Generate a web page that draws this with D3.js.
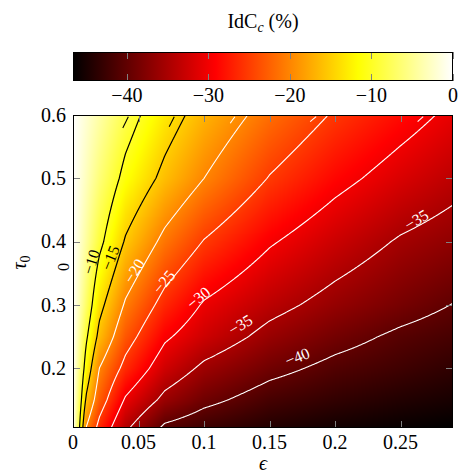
<!DOCTYPE html>
<html><head><meta charset="utf-8">
<script src="https://cdn.jsdelivr.net/npm/d3@7"></script>
<style>
body{margin:0;background:#fff}
svg{display:block}
text{font-family:"Liberation Serif","Times New Roman",serif;fill:#000}
</style>
</head><body>
<svg id="chart" width="460" height="473"></svg>
<script>
// ---- data ----
const epsValues = [0, 0.01, 0.02, 0.04, 0.07, 0.1, 0.15, 0.2, 0.25, 0.29];
const tauValues = [0.106, 0.15, 0.2, 0.25, 0.3, 0.4, 0.5, 0.6];
// IdC_c (%) : one row per tau value, one entry per eps value
const idcRow0106 = [0, -20.1, -26.4, -34.3, -40.8, -42.5, -44.3, -45.4, -46.1, -46.6];
const idcRow015  = [0, -15.6, -22.7, -30.5, -36.1, -39.0, -41.8, -43.2, -44.3, -45.0];
const idcRow020  = [0, -11.9, -20.0, -26.3, -32.4, -35.8, -38.9, -41.0, -42.3, -43.4];
const idcRow025  = [0, -9.3, -16.2, -23.2, -29.4, -32.5, -36.2, -38.7, -40.7, -41.8];
const idcRow030  = [0, -6.9, -13.7, -20.5, -26.5, -30.4, -33.8, -36.4, -38.5, -40.1];
const idcRow040  = [0, -4.4, -8.9, -15.4, -21.1, -25.2, -29.6, -32.7, -35.4, -36.8];
const idcRow050  = [0, -3.0, -6.1, -11.2, -16.1, -20.0, -25.2, -28.8, -31.7, -33.7];
const idcRow060  = [0, -2.0, -4.0, -8.1, -13.0, -16.8, -21.6, -25.4, -28.4, -30.8];
const idcRows = [idcRow0106, idcRow015, idcRow020, idcRow025, idcRow030, idcRow040, idcRow050, idcRow060];

const contourLevels = [-40, -35, -30, -25, -20, -15, -10];
const blackLevels = [-10, -15];
const xTicks = [0, 0.05, 0.1, 0.15, 0.2, 0.25];
const yTicks = [0.2, 0.3, 0.4, 0.5, 0.6];
const cbTicks = [-40, -30, -20, -10, 0];
// contour label placements (eps, tau, angle)
const labelLevels = [-10, -15, -20, -25, -30, -35, -40, -35];
const labelEps    = [0.0141, 0.0286, 0.0469, 0.0695, 0.0958, 0.1278, 0.1713, 0.2621];
const labelTau    = [0.368, 0.3743, 0.3538, 0.3364, 0.3112, 0.2686, 0.2181, 0.4343];
const labelAngle  = [-73, -68, -58, -50, -40, -31, -22, -31];
// clipped labels at the top edge (only the minus sign shows)
const topDashLevels = [-10, -15, -20, -25, -30];
const topDashEps    = [0.0380, 0.0734, 0.1200, 0.1810, 0.2630];
const topDashAngle  = [-64, -63, -55, -40, -42];
const topDashDepth  = [13, 11.7, 8.3, 6.7, 6.7];

// ---- layout ----
const plot = {left: 73, right: 453, top: 115, bottom: 428};
const cb = {top: 52, bottom: 81};
const svg = d3.select("#chart");

const x = d3.scaleLinear().domain([0, 0.29]).range([plot.left, plot.right]);
const y = d3.scaleLinear().domain([0.106, 0.6]).range([plot.bottom, plot.top]);
const vmin = d3.min(idcRows.flat()), vmax = 0;
const span = vmax - vmin;
const color = d3.scaleLinear()
  .domain([vmin, vmin + span * 3 / 8, vmin + span * 6 / 8, vmax])
  .range(["#000000", "#ff0000", "#ffff00", "#ffffff"]).clamp(true);
const cx = d3.scaleLinear().domain([vmin, vmax]).range([plot.left, plot.right]);

function field(e, t) {
  let i = d3.bisectRight(epsValues, e) - 1;
  i = Math.max(0, Math.min(epsValues.length - 2, i));
  let j = d3.bisectRight(tauValues, t) - 1;
  j = Math.max(0, Math.min(tauValues.length - 2, j));
  const fx = Math.max(0, Math.min(1, (e - epsValues[i]) / (epsValues[i + 1] - epsValues[i])));
  const fy = Math.max(0, Math.min(1, (t - tauValues[j]) / (tauValues[j + 1] - tauValues[j])));
  const a = idcRows[j][i] * (1 - fx) + idcRows[j][i + 1] * fx;
  const b = idcRows[j + 1][i] * (1 - fx) + idcRows[j + 1][i + 1] * fx;
  return a * (1 - fy) + b * fy;
}

// ---- heatmap ----
const nx = plot.right - plot.left, ny = plot.bottom - plot.top;
const grid = new Float64Array(nx * ny);
const canvas = document.createElement("canvas");
canvas.width = nx; canvas.height = ny;
const ctx = canvas.getContext("2d");
const img = ctx.createImageData(nx, ny);
for (let j = 0; j < ny; j++) {
  const t = y.invert(plot.top + j + 0.5);
  for (let i = 0; i < nx; i++) {
    const e = x.invert(plot.left + i + 0.5);
    const v = field(e, t);
    grid[j * nx + i] = v;
    const c = d3.rgb(color(v));
    const k = 4 * (j * nx + i);
    img.data[k] = c.r; img.data[k + 1] = c.g; img.data[k + 2] = c.b; img.data[k + 3] = 255;
  }
}
ctx.putImageData(img, 0, 0);
svg.append("image")
  .attr("x", plot.left).attr("y", plot.top).attr("width", nx).attr("height", ny)
  .attr("preserveAspectRatio", "none")
  .attr("href", canvas.toDataURL());

const defs = svg.append("defs");
defs.append("clipPath").attr("id", "plotclip").append("rect")
  .attr("x", plot.left).attr("y", plot.top).attr("width", nx).attr("height", ny);

// ---- contours ----
const contours = d3.contours().size([nx, ny]).thresholds(contourLevels)(Array.from(grid));
const cg = svg.append("g").attr("clip-path", "url(#plotclip)");
function isoPath(coords) {
  let d = "";
  const px = c => (plot.left + c[0]).toFixed(2), py = c => (plot.top + c[1]).toFixed(2);
  for (const poly of coords) for (const ring of poly) {
    let pen = false;
    for (let k = 1; k < ring.length; k++) {
      const a = ring[k - 1], b = ring[k];
      const onB = (a[0] === b[0] && (a[0] <= 0 || a[0] >= nx)) ||
                  (a[1] === b[1] && (a[1] <= 0 || a[1] >= ny));
      if (onB) { pen = false; continue; }
      if (!pen) { d += `M${px(a)},${py(a)}`; pen = true; }
      d += `L${px(b)},${py(b)}`;
    }
  }
  return d;
}
cg.selectAll("path.iso").data(contours).join("path")
  .attr("class", "iso")
  .attr("d", c => isoPath(c.coordinates))
  .attr("fill", "none")
  .attr("stroke", c => blackLevels.includes(c.value) ? "#000" : "#fff")
  .attr("stroke-width", c => blackLevels.includes(c.value) ? 1.2 : 1.1);

// dashes of clipped labels at the top edge
cg.selectAll("line.topdash").data(topDashLevels).join("line")
  .attr("class", "topdash")
  .attr("x1", (d, i) => x(topDashEps[i]))
  .attr("y1", (d, i) => y(0.6) + topDashDepth[i])
  .attr("x2", (d, i) => x(topDashEps[i]) + (topDashDepth[i] - 1.7) / Math.tan(-topDashAngle[i] * Math.PI / 180))
  .attr("y2", y(0.6) + 1.7)
  .attr("stroke", d => blackLevels.includes(d) ? "#000" : "#fff")
  .attr("stroke-width", 1.1);

// contour labels
svg.append("g").selectAll("text").data(labelLevels).join("text")
  .attr("transform", (d, i) => `translate(${x(labelEps[i])},${y(labelTau[i])}) rotate(${labelAngle[i]})`)
  .attr("text-anchor", "middle").attr("dy", "0.33em")
  .style("font-size", "16px")
  .style("fill", d => blackLevels.includes(d) ? "#000" : "#fff")
  .text(d => d3.format("")(d));
// label of the zero contour on the left edge
svg.append("text")
  .attr("transform", `translate(${plot.left - 4},${y(0.36)}) rotate(-90)`)
  .attr("text-anchor", "middle")
  .style("font-size", "16px").text("0");

// ---- frame and ticks ----
const tickCol = "#808080", tl = 7;
const tg = svg.append("g").attr("stroke", tickCol).attr("stroke-width", 1);
xTicks.forEach(v => {
  const px = Math.round(x(v)) + 0.5;
  tg.append("line").attr("x1", px).attr("x2", px).attr("y1", plot.bottom).attr("y2", plot.bottom - tl);
  tg.append("line").attr("x1", px).attr("x2", px).attr("y1", plot.top).attr("y2", plot.top + tl);
});
yTicks.forEach(v => {
  const py = Math.round(y(v)) + 0.5;
  tg.append("line").attr("y1", py).attr("y2", py).attr("x1", plot.left).attr("x2", plot.left + tl);
  tg.append("line").attr("y1", py).attr("y2", py).attr("x1", plot.right).attr("x2", plot.right - tl);
});
svg.append("rect")
  .attr("x", plot.left + 0.5).attr("y", plot.top + 0.5)
  .attr("width", nx - 1).attr("height", ny - 1)
  .attr("fill", "none").attr("stroke", "#000").attr("stroke-width", 1);

svg.append("g").selectAll("text").data(xTicks).join("text")
  .attr("x", d => x(d)).attr("y", 449)
  .attr("text-anchor", "middle").style("font-size", "20px")
  .text(d => d3.format("")(d));
svg.append("g").selectAll("text").data(yTicks).join("text")
  .attr("x", 66).attr("y", d => y(d)).attr("dy", "0.33em")
  .attr("text-anchor", "end").style("font-size", "20px")
  .text(d => d3.format("")(d));

// axis labels
svg.append("text").attr("x", (plot.left + plot.right) / 2).attr("y", 470)
  .attr("text-anchor", "middle").style("font-size", "20px").style("font-style", "italic")
  .text("\u03F5");
const yl = svg.append("text")
  .attr("transform", `translate(26,${(plot.top + plot.bottom) / 2 - 9}) rotate(-90)`)
  .attr("text-anchor", "middle").style("font-size", "20px");
yl.append("tspan").style("font-style", "italic").text("\u03C4");
yl.append("tspan").attr("dy", 4).style("font-size", "14px").text("0");

// ---- colorbar ----
const grad = defs.append("linearGradient").attr("id", "cbgrad")
  .attr("x1", "0%").attr("x2", "100%").attr("y1", "0%").attr("y2", "0%");
d3.range(0, 41).forEach(k => {
  grad.append("stop").attr("offset", (k / 40 * 100) + "%").attr("stop-color", color(vmin + span * k / 40));
});
svg.append("rect").attr("x", plot.left).attr("y", cb.top)
  .attr("width", nx).attr("height", cb.bottom - cb.top).attr("fill", "url(#cbgrad)");
const cbt = svg.append("g").attr("stroke", tickCol).attr("stroke-width", 1);
cbTicks.forEach(v => {
  const px = Math.round(cx(v)) + 0.5;
  cbt.append("line").attr("x1", px).attr("x2", px).attr("y1", cb.top).attr("y2", cb.top + 7);
  cbt.append("line").attr("x1", px).attr("x2", px).attr("y1", cb.bottom).attr("y2", cb.bottom - 7);
});
svg.append("rect").attr("x", plot.left + 0.5).attr("y", cb.top + 0.5)
  .attr("width", nx - 1).attr("height", cb.bottom - cb.top - 1)
  .attr("fill", "none").attr("stroke", "#000");
svg.append("g").selectAll("text").data(cbTicks).join("text")
  .attr("x", d => cx(d)).attr("y", 101.5)
  .attr("text-anchor", "middle").style("font-size", "20px")
  .text(d => d3.format("")(d));

// title
const title = svg.append("text").attr("x", 263).attr("y", 28)
  .attr("text-anchor", "middle").style("font-size", "20px");
title.append("tspan").text("IdC");
title.append("tspan").attr("dy", 4).style("font-size", "14px").style("font-style", "italic").text("c");
title.append("tspan").attr("dy", -4).text(" (%)");
</script>
</body></html>
